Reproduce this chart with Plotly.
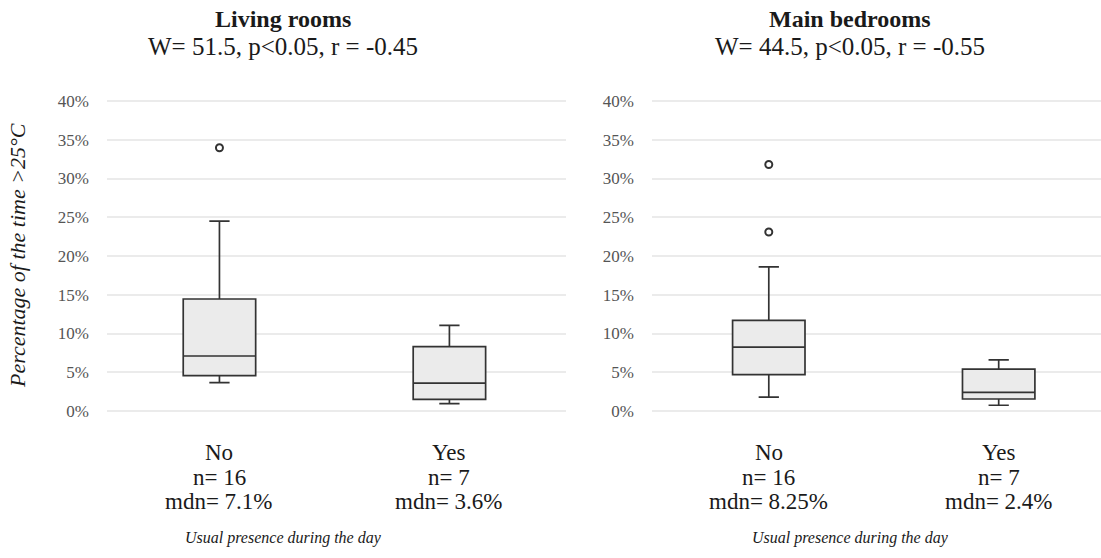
import plotly.graph_objects as go

# ---------------- data ----------------
groups = ["No", "Yes"]
panel_titles = ["Living rooms", "Main bedrooms"]
panel_subtitles = ["W= 51.5, p<0.05, r = -0.45", "W= 44.5, p<0.05, r = -0.55"]

n_living = [16, 7]
mdn_living_label = ["7.1%", "3.6%"]
n_bed = [16, 7]
mdn_bed_label = ["8.25%", "2.4%"]

# box statistics (fractions)
living_lower = [0.0366, 0.0094]
living_q1 = [0.0456, 0.0150]
living_median = [0.0710, 0.0360]
living_q3 = [0.1445, 0.0830]
living_upper = [0.2450, 0.1105]
living_outliers_x = ["No"]
living_outliers_y = [0.3397]

bed_lower = [0.0180, 0.0074]
bed_q1 = [0.0470, 0.0155]
bed_median = [0.0825, 0.0240]
bed_q3 = [0.1170, 0.0540]
bed_upper = [0.1860, 0.0660]
bed_outliers_x = ["No", "No"]
bed_outliers_y = [0.3180, 0.2310]

y_ticks = [0, 0.05, 0.10, 0.15, 0.20, 0.25, 0.30, 0.35, 0.40]
y_ticktext = ["0%", "5%", "10%", "15%", "20%", "25%", "30%", "35%", "40%"]

x_title = "Usual presence during the day"
y_title = "Percentage of the time >25°C"

# ---------------- figure ----------------
FONT = "Liberation Serif"
W, H = 1101, 558
fig = go.Figure()

box_style = dict(fillcolor="#ebebeb", line=dict(color="#333333", width=1.7),
                 whiskerwidth=0.28, width=0.315, showlegend=False, hoverinfo="skip")

panels = [
    (living_lower, living_q1, living_median, living_q3, living_upper,
     living_outliers_x, living_outliers_y, "x", "y", n_living, mdn_living_label),
    (bed_lower, bed_q1, bed_median, bed_q3, bed_upper,
     bed_outliers_x, bed_outliers_y, "x2", "y2", n_bed, mdn_bed_label),
]

label_y = [1 - 453 / H, 1 - 477 / H, 1 - 501 / H]
for lo, q1, md, q3, up, ox, oy, xa, ya, nn, ml in panels:
    fig.add_trace(go.Box(x=groups, lowerfence=lo, q1=q1, median=md, q3=q3,
                         upperfence=up, xaxis=xa, yaxis=ya, **box_style))
    fig.add_trace(go.Scatter(x=ox, y=oy, mode="markers", xaxis=xa, yaxis=ya,
                             marker=dict(symbol="circle-open", size=7,
                                         color="#333333", line=dict(width=2)),
                             showlegend=False, hoverinfo="skip"))
    # category labels (three tight lines)
    for g, n, m in zip(groups, nn, ml):
        for txt, yy in zip([g, f"n= {n}", f"mdn= {m}"], label_y):
            fig.add_annotation(x=g, y=yy, xref=xa, yref="paper", text=txt,
                               showarrow=False, xanchor="center", yanchor="middle",
                               font=dict(family=FONT, size=23, color="#1a1a1a"))

y_range = [-0.02, 0.42]
ydom = [1 - 426.5 / H, 1 - 85.5 / H]

xaxis_common = dict(type="category", showgrid=False, zeroline=False, showline=False,
                    ticks="", showticklabels=False)
yaxis_common = dict(range=y_range, domain=ydom, tickvals=y_ticks, ticktext=y_ticktext,
                    showgrid=True, gridcolor="#ebebeb", gridwidth=1.6, zeroline=False,
                    showline=False, ticks="", ticklabelstandoff=17,
                    tickfont=dict(family=FONT, size=17, color="#555555"))

fig.update_layout(
    width=W, height=H,
    margin=dict(l=0, r=0, t=0, b=0),
    paper_bgcolor="white", plot_bgcolor="white",
    xaxis=dict(domain=[107 / W, 566 / W], range=[-0.489, 1.507], anchor="y", **xaxis_common),
    xaxis2=dict(domain=[652 / W, 1.0], range=[-0.508, 1.445], anchor="y2", **xaxis_common),
    yaxis=dict(anchor="x", **yaxis_common),
    yaxis2=dict(anchor="x2", **yaxis_common),
    font=dict(family=FONT),
)

title_x = [283 / W, 850 / W]
for tx, t, s in zip(title_x, panel_titles, panel_subtitles):
    fig.add_annotation(x=tx, y=1 - 19 / H, xref="paper", yref="paper", showarrow=False,
                       text=f"<b>{t}</b>", font=dict(family=FONT, size=24, color="#1a1a1a"),
                       xanchor="center", yanchor="middle")
    fig.add_annotation(x=tx, y=1 - 46 / H, xref="paper", yref="paper", showarrow=False,
                       text=s, font=dict(family=FONT, size=25, color="#1a1a1a"),
                       xanchor="center", yanchor="middle")
    fig.add_annotation(x=tx, y=1 - 538 / H, xref="paper", yref="paper", showarrow=False,
                       text=f"<i>{x_title}</i>", font=dict(family=FONT, size=16, color="#1a1a1a"),
                       xanchor="center", yanchor="middle")

fig.add_annotation(x=17 / W, y=1 - 256 / H, xref="paper", yref="paper", showarrow=False,
                   text=f"<i>{y_title}</i>", textangle=-90,
                   font=dict(family=FONT, size=22, color="#1a1a1a"),
                   xanchor="center", yanchor="middle")

fig.write_html("out.html", config={"displayModeBar": False},
               post_script="document.body.style.margin='0';")
